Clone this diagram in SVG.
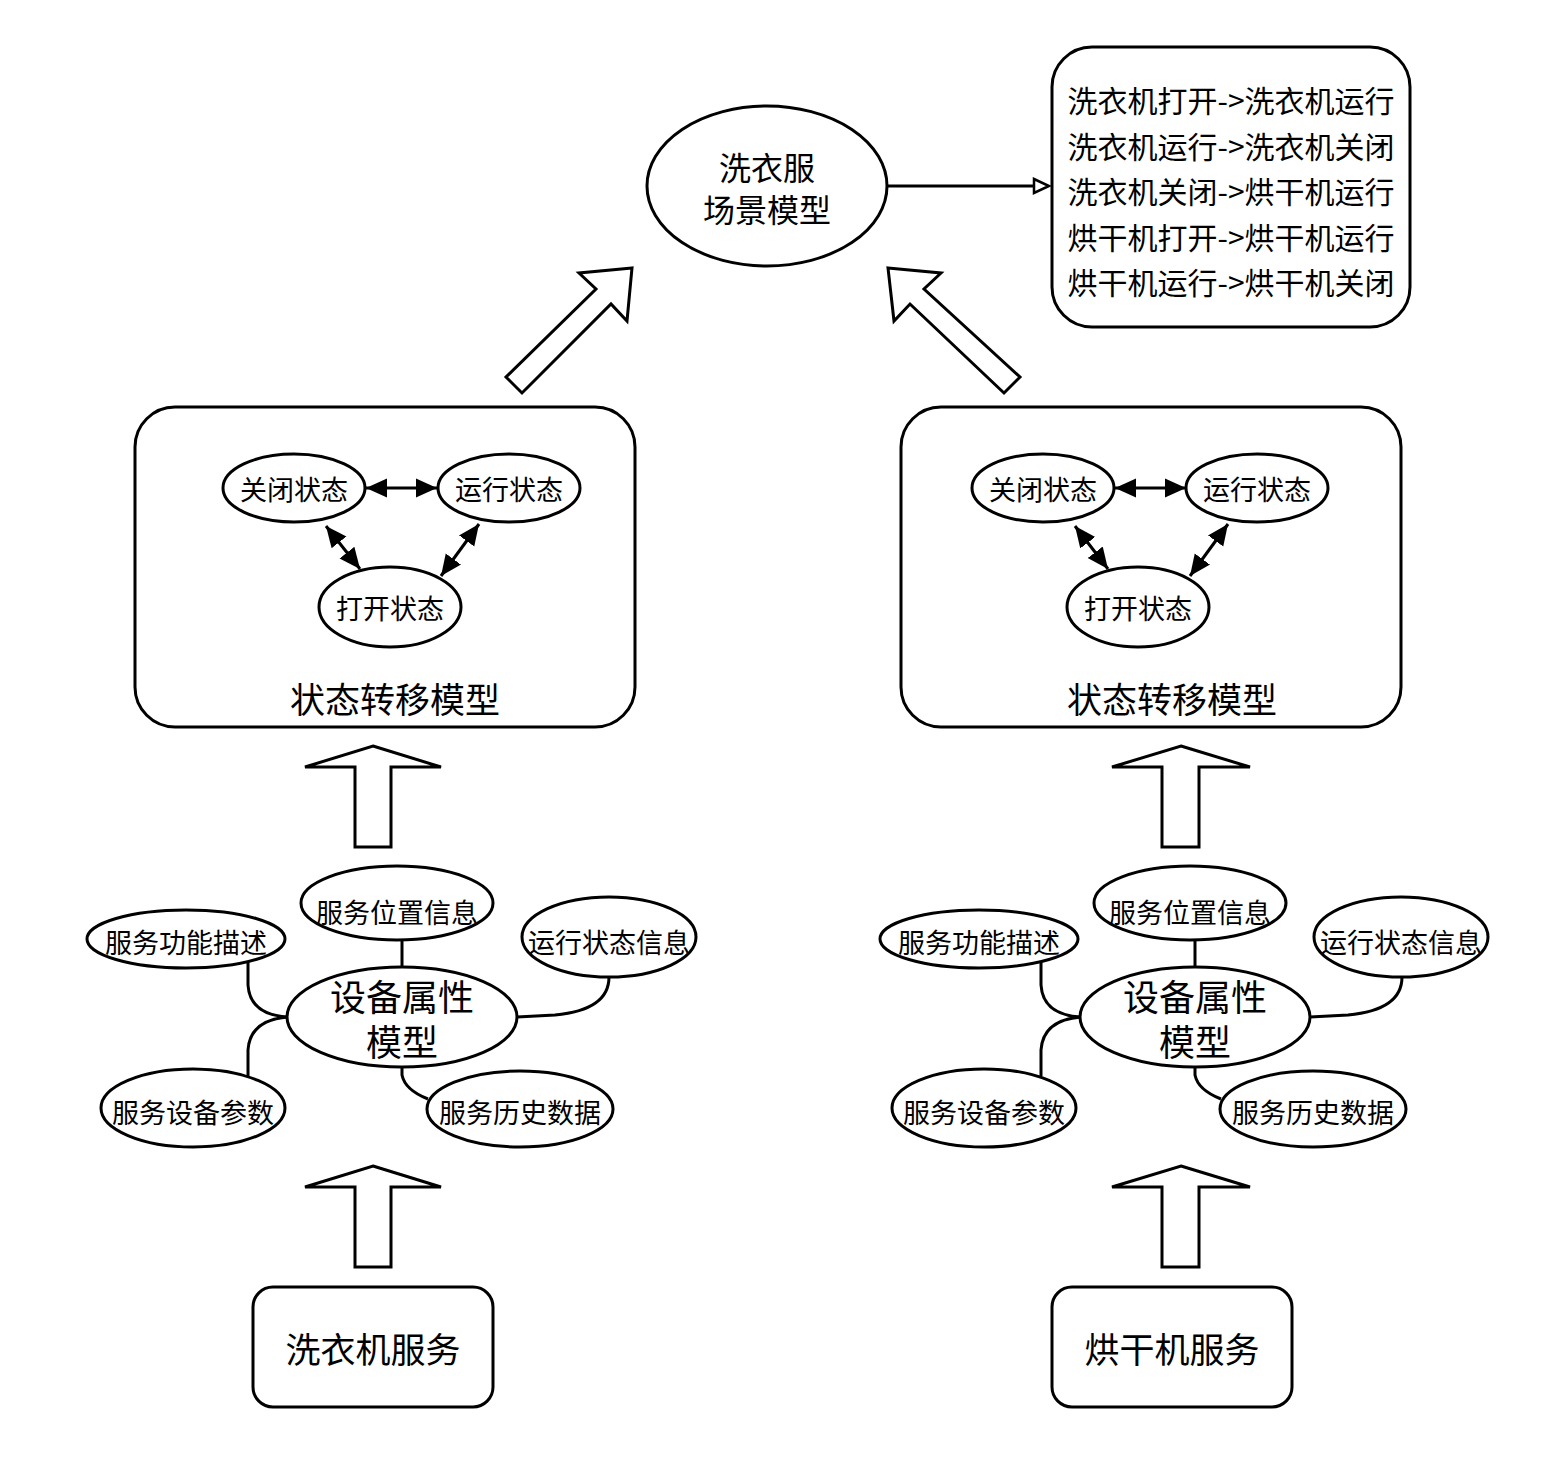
<svg xmlns="http://www.w3.org/2000/svg" width="1556" height="1464" viewBox="0 0 1556 1464">
<defs>
<style>
.s{fill:#fff;stroke:#000;stroke-width:3}
.ln{fill:none;stroke:#000;stroke-width:3}
.t{font-family:"Noto Sans CJK SC","Noto Sans",sans-serif;fill:#000;text-anchor:middle;dominant-baseline:central}
.st{font-size:27px}
.cl{font-size:27px}
</style>
<marker id="ah" viewBox="0 0 10 10" refX="10" refY="5" markerWidth="21" markerHeight="21" markerUnits="userSpaceOnUse" orient="auto-start-reverse"><path d="M0,0.5 L10,5 L0,9.5 z" fill="#000"/></marker>
</defs>
<rect width="1556" height="1464" fill="#fff"/>

<g id="scene">
<ellipse class="s" cx="767" cy="186" rx="120" ry="80"/>
<text class="t" x="767" y="166" font-size="32">洗衣服</text>
<text class="t" x="767" y="208" font-size="32">场景模型</text>
</g>

<g id="rules">
<rect class="s" x="1052" y="47" width="358" height="280" rx="40"/>
<text class="t" x="1231" y="99" font-size="30">洗衣机打开-&gt;洗衣机运行</text>
<text class="t" x="1231" y="145" font-size="30">洗衣机运行-&gt;洗衣机关闭</text>
<text class="t" x="1231" y="190" font-size="30">洗衣机关闭-&gt;烘干机运行</text>
<text class="t" x="1231" y="236" font-size="30">烘干机打开-&gt;烘干机运行</text>
<text class="t" x="1231" y="281" font-size="30">烘干机运行-&gt;烘干机关闭</text>
</g>

<g id="state-left">
<rect class="s" x="135" y="407" width="500" height="320" rx="40"/>
<text class="t" x="395" y="697" font-size="35">状态转移模型</text>
<g id="sl-close"><ellipse class="s" cx="294" cy="488" rx="71" ry="34"/><text class="t st" x="294" y="488" fill="#333">关闭状态</text></g>
<g id="sl-run"><ellipse class="s" cx="509" cy="488" rx="71" ry="34"/><text class="t st" x="509" y="488">运行状态</text></g>
<g id="sl-open"><ellipse class="s" cx="390" cy="607" rx="71" ry="40"/><text class="t st" x="390" y="607">打开状态</text></g>
</g>

<g id="state-right">
<rect class="s" x="901" y="407" width="500" height="320" rx="40"/>
<text class="t" x="1172" y="697" font-size="35">状态转移模型</text>
<g id="sr-close"><ellipse class="s" cx="1043" cy="488" rx="71" ry="34"/><text class="t st" x="1043" y="488">关闭状态</text></g>
<g id="sr-run"><ellipse class="s" cx="1257" cy="488" rx="71" ry="34"/><text class="t st" x="1257" y="488">运行状态</text></g>
<g id="sr-open"><ellipse class="s" cx="1138" cy="607" rx="71" ry="40"/><text class="t st" x="1138" y="607">打开状态</text></g>
</g>

<g id="attr-left">
<g id="al-loc"><ellipse class="s" cx="397" cy="903" rx="96" ry="37"/><text class="t cl" x="397" y="911">服务位置信息</text></g>
<g id="al-func"><ellipse class="s" cx="186" cy="939" rx="99" ry="29"/><text class="t cl" x="186" y="941">服务功能描述</text></g>
<g id="al-stat"><ellipse class="s" cx="609" cy="937" rx="87" ry="40"/><text class="t cl" x="609" y="941">运行状态信息</text></g>
<g id="al-core"><ellipse class="s" cx="402" cy="1017" rx="115" ry="50"/><text class="t" x="402" y="995" font-size="36">设备属性</text><text class="t" x="402" y="1040" font-size="36">模型</text></g>
<g id="al-param"><ellipse class="s" cx="193" cy="1108" rx="92" ry="39"/><text class="t cl" x="193" y="1111">服务设备参数</text></g>
<g id="al-hist"><ellipse class="s" cx="520" cy="1109" rx="93" ry="38"/><text class="t cl" x="520" y="1111">服务历史数据</text></g>
</g>

<g id="attr-right">
<g id="ar-loc"><ellipse class="s" cx="1190" cy="903" rx="96" ry="37"/><text class="t cl" x="1190" y="911">服务位置信息</text></g>
<g id="ar-func"><ellipse class="s" cx="979" cy="939" rx="99" ry="29"/><text class="t cl" x="979" y="941">服务功能描述</text></g>
<g id="ar-stat"><ellipse class="s" cx="1401" cy="937" rx="87" ry="40"/><text class="t cl" x="1401" y="941">运行状态信息</text></g>
<g id="ar-core"><ellipse class="s" cx="1195" cy="1017" rx="115" ry="50"/><text class="t" x="1195" y="995" font-size="36">设备属性</text><text class="t" x="1195" y="1040" font-size="36">模型</text></g>
<g id="ar-param"><ellipse class="s" cx="984" cy="1108" rx="92" ry="39"/><text class="t cl" x="984" y="1111">服务设备参数</text></g>
<g id="ar-hist"><ellipse class="s" cx="1313" cy="1109" rx="93" ry="38"/><text class="t cl" x="1313" y="1111">服务历史数据</text></g>
</g>

<g id="washer">
<rect class="s" x="253" y="1287" width="240" height="120" rx="20"/>
<text class="t" x="373" y="1347" font-size="35">洗衣机服务</text>
</g>
<g id="dryer">
<rect class="s" x="1052" y="1287" width="240" height="120" rx="20"/>
<text class="t" x="1172" y="1347" font-size="35">烘干机服务</text>
</g>

<g id="connectors">
<line class="ln" x1="887" y1="186" x2="1034" y2="186" stroke-width="2.5"/>
<polygon points="1034,179 1049,186 1034,193" fill="#fff" stroke="#000" stroke-width="2.5"/>

<polygon class="s" points="632,268 579,273 596,289 506,377 522,393 611,304 627,321"/>
<polygon class="s" points="888,268 941,273 924,289 1020,377 1004,393 910,304 894,321"/>

<line class="ln" x1="366" y1="488" x2="437" y2="488" marker-start="url(#ah)" marker-end="url(#ah)"/>
<line class="ln" x1="326" y1="526" x2="360" y2="569" marker-start="url(#ah)" marker-end="url(#ah)"/>
<line class="ln" x1="479" y1="524" x2="441" y2="576" marker-start="url(#ah)" marker-end="url(#ah)"/>
<line class="ln" x1="1115" y1="488" x2="1186" y2="488" marker-start="url(#ah)" marker-end="url(#ah)"/>
<line class="ln" x1="1075" y1="526" x2="1108" y2="569" marker-start="url(#ah)" marker-end="url(#ah)"/>
<line class="ln" x1="1228" y1="524" x2="1190" y2="576" marker-start="url(#ah)" marker-end="url(#ah)"/>

<polygon class="s" points="373,746 441,767 391,767 391,847 355,847 355,767 305,767"/>
<polygon class="s" points="1181,746 1250,767 1199,767 1199,847 1162,847 1162,767 1112,767"/>
<polygon class="s" points="373,1166 441,1187 391,1187 391,1267 355,1267 355,1187 305,1187"/>
<polygon class="s" points="1181,1166 1250,1187 1199,1187 1199,1267 1162,1267 1162,1187 1112,1187"/>

<path class="ln" d="M402,940 L402,967"/>
<path class="ln" d="M248,962 L248,985 Q250,1015 288,1017"/>
<path class="ln" d="M288,1017 Q250,1020 248,1050 L248,1076"/>
<path class="ln" d="M517,1017 L555,1015 Q609,1010 609,977"/>
<path class="ln" d="M402,1067 L402,1075 Q405,1090 428,1099"/>

<path class="ln" d="M1195,940 L1195,967"/>
<path class="ln" d="M1041,962 L1041,985 Q1043,1015 1081,1017"/>
<path class="ln" d="M1081,1017 Q1043,1020 1041,1050 L1041,1076"/>
<path class="ln" d="M1310,1017 L1348,1015 Q1402,1010 1402,977"/>
<path class="ln" d="M1195,1067 L1195,1075 Q1198,1090 1221,1099"/>
</g>
</svg>
